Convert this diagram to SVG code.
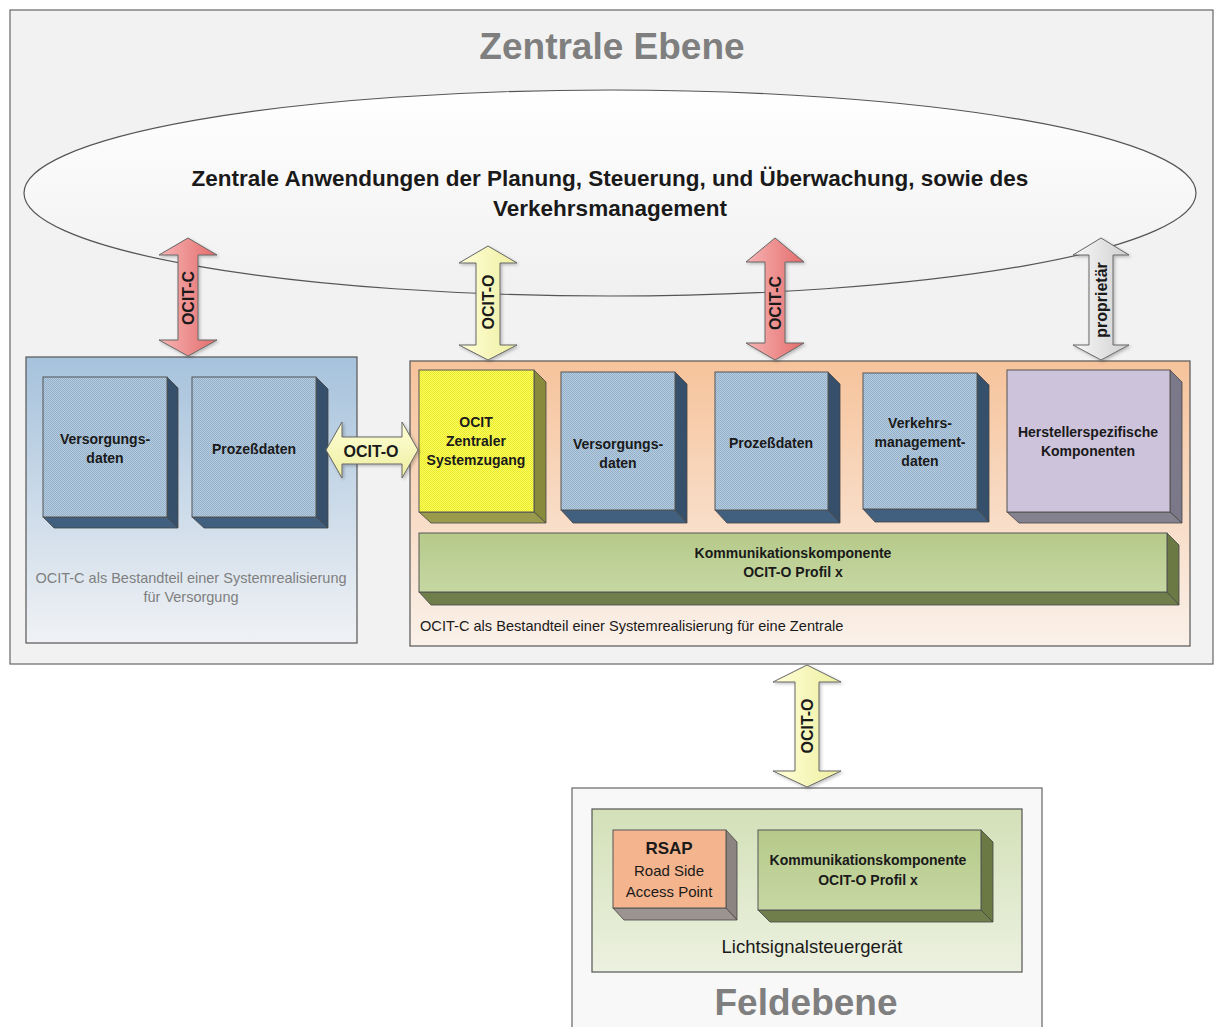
<svg xmlns="http://www.w3.org/2000/svg" width="1214" height="1027" viewBox="0 0 1214 1027">
<defs>
  <style>
    text { font-family: "Liberation Sans", Arial, sans-serif; fill: #1a1a1a; }
    .b { font-weight: bold; }
    .ttl { font-size: 37px; font-weight: bold; fill: #7f7f7f; text-anchor: middle; }
    .lbl { font-size: 14px; font-weight: bold; text-anchor: middle; }
    .cap { font-size: 14.5px; fill: #7f7f7f; text-anchor: middle; }
    .arr { font-size: 16px; font-weight: bold; text-anchor: middle; }
    .edge { stroke: #555; stroke-width: 1; }
    .side { stroke: #444; stroke-width: 0.8; }
  </style>
  <pattern id="pBlue" width="2" height="2" patternUnits="userSpaceOnUse">
    <rect width="2" height="2" fill="#b6cde1"/>
    <rect width="1" height="1" fill="#94afc8"/>
    <rect x="1" y="1" width="1" height="1" fill="#94afc8"/>
  </pattern>
  <pattern id="pYellow" width="2" height="2" patternUnits="userSpaceOnUse">
    <rect width="2" height="2" fill="#ffff5a"/>
    <rect width="1" height="1" fill="#e8e830"/>
    <rect x="1" y="1" width="1" height="1" fill="#e8e830"/>
  </pattern>
  <linearGradient id="gEll" x1="0" y1="0" x2="0" y2="1">
    <stop offset="0" stop-color="#ffffff"/>
    <stop offset="1" stop-color="#f0f0f0"/>
  </linearGradient>
  <linearGradient id="gLeft" x1="0" y1="0" x2="0" y2="1">
    <stop offset="0" stop-color="#a6c2dc"/>
    <stop offset="1" stop-color="#f0f2f5"/>
  </linearGradient>
  <linearGradient id="gOrange" x1="0" y1="0" x2="0" y2="1">
    <stop offset="0" stop-color="#f6c39b"/>
    <stop offset="1" stop-color="#faf1ea"/>
  </linearGradient>
  <linearGradient id="gGreenC" x1="0" y1="0" x2="0" y2="1">
    <stop offset="0" stop-color="#d3e0b8"/>
    <stop offset="1" stop-color="#ecf1e0"/>
  </linearGradient>
  <linearGradient id="gGreen" x1="0" y1="0" x2="0" y2="1">
    <stop offset="0" stop-color="#b6ca8a"/>
    <stop offset="1" stop-color="#c6d7a2"/>
  </linearGradient>
  <linearGradient id="gRed" x1="0" y1="0" x2="1" y2="0">
    <stop offset="0" stop-color="#f7b4b4"/>
    <stop offset="1" stop-color="#e46c6c"/>
  </linearGradient>
  <linearGradient id="gYel" x1="0" y1="0" x2="1" y2="0">
    <stop offset="0" stop-color="#ffffd8"/>
    <stop offset="1" stop-color="#eeeea0"/>
  </linearGradient>
  <linearGradient id="gYelH" x1="0" y1="0" x2="0" y2="1">
    <stop offset="0" stop-color="#ffffd8"/>
    <stop offset="1" stop-color="#eeeea0"/>
  </linearGradient>
  <linearGradient id="gGray" x1="0" y1="0" x2="1" y2="0">
    <stop offset="0" stop-color="#f8f8f8"/>
    <stop offset="1" stop-color="#cfcfcf"/>
  </linearGradient>
  <filter id="sh" x="-20%" y="-20%" width="140%" height="140%">
    <feDropShadow dx="1.5" dy="1.5" stdDeviation="1.5" flood-color="#000" flood-opacity="0.25"/>
  </filter>
</defs>

<rect width="1214" height="1027" fill="#ffffff"/>

<!-- Zentrale Ebene -->
<g id="zentrale-ebene">
  <rect x="10" y="10" width="1203" height="654" fill="#f2f2f2" stroke="#666" stroke-width="1.2"/>
  <text class="ttl" x="612" y="59">Zentrale Ebene</text>
</g>

<g id="anwendungen">
  <ellipse cx="610" cy="193" rx="586" ry="103" fill="url(#gEll)" stroke="#555" stroke-width="1.2"/>
  <text class="b" x="610" y="186" font-size="22.5" text-anchor="middle">Zentrale Anwendungen der Planung, Steuerung, und Überwachung, sowie des</text>
  <text class="b" x="610" y="216" font-size="22.5" text-anchor="middle">Verkehrsmanagement</text>
</g>

<!-- Left container: Versorgung -->
<g id="versorgung-container">
  <rect x="26" y="357" width="331" height="286" fill="url(#gLeft)" stroke="#555" stroke-width="1.2"/>
  <text class="cap" x="191" y="583">OCIT-C als Bestandteil einer Systemrealisierung</text>
  <text class="cap" x="191" y="602">für Versorgung</text>
</g>

<g id="l-versorgungsdaten">
  <polygon points="167,377 178,388 178,528 167,517" fill="#36506c" class="side"/>
  <polygon points="43,517 167,517 178,528 54,528" fill="#41607f" class="side"/>
  <rect x="43" y="377" width="124" height="140" fill="url(#pBlue)" class="edge"/>
  <text class="lbl" x="105" y="444">Versorgungs-</text>
  <text class="lbl" x="105" y="463">daten</text>
</g>

<g id="l-prozessdaten">
  <polygon points="316,377 328,389 328,528 316,517" fill="#36506c" class="side"/>
  <polygon points="192,517 316,517 328,528 204,528" fill="#41607f" class="side"/>
  <rect x="192" y="377" width="124" height="140" fill="url(#pBlue)" class="edge"/>
  <text class="lbl" x="254" y="454">Prozeßdaten</text>
</g>

<!-- Right container: Zentrale -->
<g id="zentrale-container">
  <rect x="410" y="361" width="780" height="285" fill="url(#gOrange)" stroke="#555" stroke-width="1.2"/>
  <text x="420" y="631" font-size="14.6" fill="#7f7f7f">OCIT-C als Bestandteil einer Systemrealisierung für eine Zentrale</text>
</g>

<g id="systemzugang">
  <polygon points="534,370 546,382 546,523 534,512" fill="#8a8a3c" class="side"/>
  <polygon points="419,512 534,512 546,523 431,523" fill="#9a9a4c" class="side"/>
  <rect x="419" y="370" width="115" height="142" fill="url(#pYellow)" class="edge"/>
  <text class="lbl" x="476" y="427">OCIT</text>
  <text class="lbl" x="476" y="446">Zentraler</text>
  <text class="lbl" x="476" y="465">Systemzugang</text>
</g>

<g id="z-versorgungsdaten">
  <polygon points="675,372 687,384 687,523 675,510" fill="#36506c" class="side"/>
  <polygon points="561,510 675,510 687,523 573,523" fill="#41607f" class="side"/>
  <rect x="561" y="372" width="114" height="138" fill="url(#pBlue)" class="edge"/>
  <text class="lbl" x="618" y="449">Versorgungs-</text>
  <text class="lbl" x="618" y="468">daten</text>
</g>

<g id="z-prozessdaten">
  <polygon points="828,372 840,384 840,523 828,510" fill="#36506c" class="side"/>
  <polygon points="715,510 828,510 840,523 727,523" fill="#41607f" class="side"/>
  <rect x="715" y="372" width="113" height="138" fill="url(#pBlue)" class="edge"/>
  <text class="lbl" x="771" y="448">Prozeßdaten</text>
</g>

<g id="verkehrsmanagementdaten">
  <polygon points="977,373 989,385 989,522 977,509" fill="#36506c" class="side"/>
  <polygon points="863,509 977,509 989,522 875,522" fill="#41607f" class="side"/>
  <rect x="863" y="373" width="114" height="136" fill="url(#pBlue)" class="edge"/>
  <text class="lbl" x="920" y="428">Verkehrs-</text>
  <text class="lbl" x="920" y="447">management-</text>
  <text class="lbl" x="920" y="466">daten</text>
</g>

<g id="herstellerspezifisch">
  <polygon points="1170,370 1182,382 1182,523 1170,512" fill="#7b7889" class="side"/>
  <polygon points="1007,512 1170,512 1182,523 1019,523" fill="#85828f" class="side"/>
  <rect x="1007" y="370" width="163" height="142" fill="#cdc3db" class="edge"/>
  <text class="lbl" x="1088" y="437">Herstellerspezifische</text>
  <text class="lbl" x="1088" y="456">Komponenten</text>
</g>

<g id="kommunikation-zentrale">
  <polygon points="1167,533 1179,545 1179,605 1167,592" fill="#6b7a45" class="side"/>
  <polygon points="419,592 1167,592 1179,605 431,605" fill="#6f7e4a" class="side"/>
  <rect x="419" y="533" width="748" height="59" fill="url(#gGreen)" class="edge"/>
  <text class="lbl" x="793" y="558">Kommunikationskomponente</text>
  <text class="lbl" x="793" y="577">OCIT-O Profil x</text>
</g>

<!-- Feldebene -->
<g id="feldebene">
  <rect x="572" y="788" width="470" height="245" fill="#f8f8f8" stroke="#666" stroke-width="1.2"/>
  <text class="ttl" x="806" y="1015">Feldebene</text>
</g>

<g id="lichtsignalsteuergeraet">
  <rect x="592" y="809" width="430" height="163" fill="url(#gGreenC)" stroke="#555" stroke-width="1.2"/>
  <text x="812" y="953" font-size="18.5" fill="#595959" text-anchor="middle">Lichtsignalsteuergerät</text>
</g>

<g id="rsap">
  <polygon points="726,830 737,842 737,920 726,908" fill="#8c8480" class="side"/>
  <polygon points="613,908 726,908 737,920 624,920" fill="#9c9490" class="side"/>
  <rect x="613" y="830" width="113" height="78" fill="#f4b58e" class="edge"/>
  <text class="b" x="669" y="854" font-size="17" text-anchor="middle">RSAP</text>
  <text x="669" y="876" font-size="15" fill="#404040" text-anchor="middle">Road Side</text>
  <text x="669" y="897" font-size="15" fill="#404040" text-anchor="middle">Access Point</text>
</g>

<g id="kommunikation-feld">
  <polygon points="981,830 993,842 993,922 981,910" fill="#6b7a45" class="side"/>
  <polygon points="758,910 981,910 993,922 770,922" fill="#6f7e4a" class="side"/>
  <rect x="758" y="830" width="223" height="80" fill="url(#gGreen)" class="edge"/>
  <text class="lbl" x="868" y="865">Kommunikationskomponente</text>
  <text class="lbl" x="868" y="885">OCIT-O Profil x</text>
</g>

<!-- Connectors -->
<g id="connectors" stroke="#666" stroke-width="1" filter="url(#sh)">
  <polygon fill="url(#gRed)" points="188,238 217,255 198,255 198,340 217,340 188,356 159,340 178,340 178,255 159,255"/>
  <polygon fill="url(#gYel)" points="488,246 517,263 500,263 500,345 517,345 488,360 459,345 476,345 476,263 459,263"/>
  <polygon fill="url(#gRed)" points="775,238 804,262 785,262 785,343 804,343 775,360 746,343 765,343 765,262 746,262"/>
  <polygon fill="url(#gGray)" points="1101,238 1129,255 1113,255 1113,345 1129,345 1101,360 1073,345 1089,345 1089,255 1073,255"/>
  <polygon fill="url(#gYelH)" points="326,450 342,422 342,437 402,437 402,422 418,450 402,478 402,464 342,464 342,478"/>
  <polygon fill="url(#gYel)" points="807,665 841,682 819,682 819,771 841,771 807,787 773,771 795,771 795,682 773,682"/>
</g>
<g id="connector-labels">
  <text class="arr" transform="translate(194,298) rotate(-90)">OCIT-C</text>
  <text class="arr" transform="translate(494,302) rotate(-90)">OCIT-O</text>
  <text class="arr" transform="translate(781,303) rotate(-90)">OCIT-C</text>
  <text class="arr" transform="translate(1107,300) rotate(-90)" font-size="16.5">proprietär</text>
  <text class="arr" x="371" y="457" font-size="17">OCIT-O</text>
  <text class="arr" transform="translate(813,726) rotate(-90)">OCIT-O</text>
</g>
</svg>
